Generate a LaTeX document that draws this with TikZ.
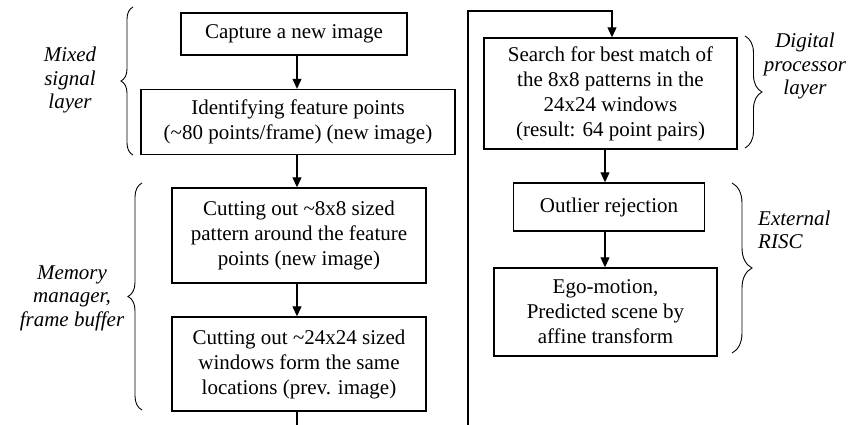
\documentclass[tikz,border=0pt]{standalone}
\usepackage{fontspec}
\setmainfont{Liberation Serif}
\usetikzlibrary{arrows.meta,decorations.pathreplacing}
\begin{document}
\begin{tikzpicture}[x=1pt,y=-1pt,
  stepbox/.style={draw, line width=1.4pt, inner sep=0pt, align=center,
    font=\fontsize{21}{25}\selectfont},
  flow/.style={line width=1.1pt, -{Triangle[length=10pt,width=9pt]}},
  wire/.style={line width=1.1pt},
  layerbrace/.style={decorate, line width=0.9pt, decoration={brace, amplitude=#1}},
  layerlabel/.style={font=\fontsize{21}{23.5}\selectfont\itshape, inner sep=0pt}
]
\useasboundingbox (0,0) rectangle (851,425);

% processing steps, left column
\node[stepbox, minimum width=226pt, minimum height=42pt] (b1) at (294,34)
  {Capture a new image};
\node[stepbox, minimum width=314pt, minimum height=65pt] (b2) at (298,122)
  {Identifying feature points\\(\textasciitilde80 points/frame) (new image)};
\node[stepbox, minimum width=254pt, minimum height=95pt] (b3) at (299,235.5)
  {Cutting out \textasciitilde8x8 sized\\pattern around the feature\\points (new image)};
\node[stepbox, minimum width=254pt, minimum height=94pt] (b4) at (299,364)
  {Cutting out \textasciitilde24x24 sized\\windows form the same\\locations (prev. image)};

% processing steps, right column
\node[stepbox, minimum width=253pt, minimum height=111pt] (b5) at (610.5,93.5)
  {Search for best match of\\the 8x8 patterns in the\\24x24 windows\\(result: 64 point pairs)};
\node[stepbox, minimum width=191pt, minimum height=48pt] (b6) at (609,207)
  {Outlier rejection};
\node[stepbox, minimum width=223pt, minimum height=88pt] (b7) at (605.5,312)
  {Ego-motion,\\Predicted scene by\\affine transform};

% connector guide positions
\coordinate (col) at (297,0);
\coordinate (rcol) at (605,0);
\coordinate (inX) at (612,0);
\coordinate (exitL) at (297,425);
\coordinate (exitR) at (468,425);
\coordinate (loopTop) at (468,11);

\draw[flow] (b1.south -| col) -- (b2.north -| col);
\draw[flow] (b2.south -| col) -- (b3.north -| col);
\draw[flow] (b3.south -| col) -- (b4.north -| col);
\draw[wire] (b4.south -| col) -- (exitL);
\draw[flow] (exitR) -- (loopTop) -| (b5.north -| inX);
\draw[flow] (b5.south -| rcol) -- (b6.north -| rcol);
\draw[flow] (b6.south -| rcol) -- (b7.north -| rcol);

% layer braces
\draw[layerbrace=12pt] (133,155) -- (133,7);
\draw[layerbrace=14pt] (142,410) -- (142,183);
\draw[layerbrace=17pt] (745,36) -- (745,148);
\draw[layerbrace=20pt] (732,183) -- (732,353);

% layer labels
\node[layerlabel, align=center] (mixedlbl) at (70,80) {Mixed\\signal\\layer};
\node[layerlabel, align=center] (memlbl) at (72,298) {Memory\\manager,\\frame buffer};
\node[layerlabel, align=center] (diglbl) at (805,66) {Digital\\processor\\layer};
\node[layerlabel, align=left, anchor=west] (risclbl) at (758,230) {External\\RISC};
\end{tikzpicture}
\end{document}
